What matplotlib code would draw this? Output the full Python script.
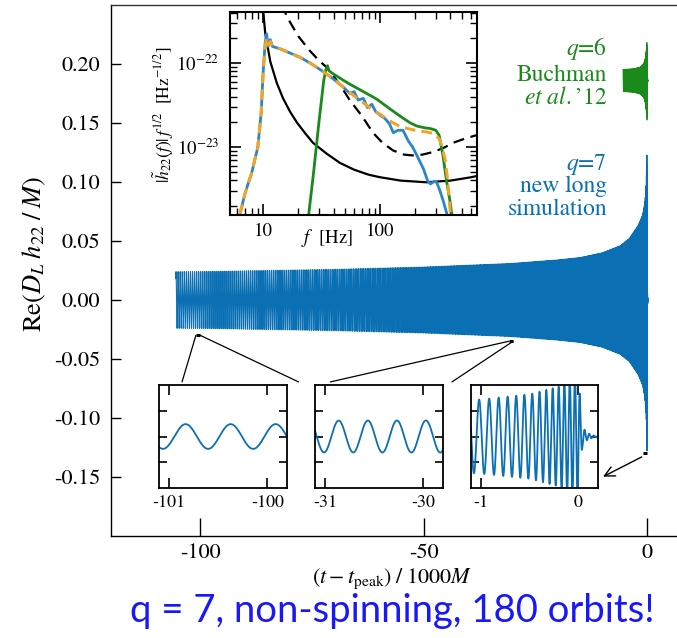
import numpy as np
import matplotlib
matplotlib.use('Agg')
import matplotlib.pyplot as plt
from matplotlib.patches import ConnectionPatch
from matplotlib.ticker import NullFormatter

plt.rcParams['font.family'] = 'STIXGeneral'
plt.rcParams['mathtext.fontset'] = 'stix'
plt.rcParams['axes.unicode_minus'] = False

# ---------------- data ----------------
# GW frequency of the (2,2) mode, cycles per 1000M, at times (t - t_peak)/1000M
freq_t = [-105.5, -101.0, -70.0, -50.0, -30.5, -15.0, -8.0, -4.0, -2.0, -1.0, -0.5, -0.2, 0.0, 0.3]
freq_f = [2.15, 2.18, 2.50, 2.84, 3.38, 4.20, 5.00, 6.00, 7.50, 9.50, 12.5, 16.7, 20.0, 24.0]

# amplitude envelope of the q=7 run
amp_t = [-105.5, -101.0, -70.0, -50.0, -30.5, -20.0, -15.0, -10.0, -6.0, -4.0, -2.0, -1.0,
         -0.5, -0.2, -0.05, 0.0, 0.02, 0.04, 0.08, 0.15, 0.3]
amp_a = [0.024, 0.024, 0.026, 0.028, 0.031, 0.034, 0.036, 0.040, 0.046, 0.052, 0.063, 0.072,
         0.082, 0.097, 0.120, 0.130, 0.060, 0.020, 0.008, 0.002, 0.0]

# q=6 Buchman et al. '12 waveform (drawn shifted upwards)
q6_offset = 0.186
q6_amp_t = [-5.4, -3.0, -1.5, -0.8, -0.4, -0.15, 0.0, 0.05, 0.1, 0.2]
q6_amp_a = [0.0095, 0.010, 0.0115, 0.014, 0.019, 0.027, 0.034, 0.020, 0.004, 0.0]

# zoomed windows and where their markers sit on the main plot
zoom_windows = [(-101, -100), (-31, -30), (-1, 0)]
zoom_marker_y = [-0.030, -0.035, -0.130]

# spectra |h22(f)| f^1/2, log10 values
psd_blue_f = [6.3, 7, 8, 9, 9.6, 10, 10.4, 10.7, 11.0, 11.5, 12, 14, 17, 20.7, 26, 32.6, 40, 48,
              55, 60, 65, 72, 78, 85, 92, 100, 110, 120, 130, 142, 157, 175, 190, 210, 235,
              255, 270, 290, 305, 325, 345, 372, 385]
psd_blue_h = [-23.81, -23.55, -23.3, -23.0, -22.6, -22.1, -21.75, -21.65, -21.8, -21.72, -21.8,
              -21.83, -21.88, -21.93, -22.01, -22.10, -22.19, -22.28, -22.36, -22.34, -22.44,
              -22.42, -22.53, -22.49, -22.58, -22.62, -22.66, -22.72, -22.83, -22.80, -22.80,
              -22.93, -23.0, -23.12, -23.26, -23.40, -23.44, -23.41, -23.42, -23.52, -23.63,
              -23.79, -23.9]
psd_orange_f = [6.3, 7, 8, 9, 9.6, 10, 10.4, 10.7, 11.0, 11.5, 12, 14, 17, 20.7, 26, 32.6, 40,
                48, 55, 70, 85, 100, 125, 150, 200, 250, 290, 320, 340, 360, 375, 390, 400, 405]
psd_orange_h = [-23.81, -23.55, -23.3, -23.0, -22.6, -22.1, -21.8, -21.7, -21.78, -21.74,
                -21.8, -21.83, -21.88, -21.93, -22.01, -22.10, -22.19, -22.28, -22.35, -22.46,
                -22.55, -22.61, -22.70, -22.76, -22.80, -22.82, -22.84, -22.90, -23.0, -23.15,
                -23.35, -23.6, -23.81, -23.9]
psd_green_f = [24.3, 27, 30, 33, 34.5, 35.5, 36.5, 40, 48, 55, 70, 94, 120, 148, 180, 207, 240,
               270, 300, 320, 345, 370, 397, 420]
psd_green_h = [-23.85, -23.3, -22.7, -22.2, -22.07, -22.03, -22.09, -22.13, -22.2, -22.25,
               -22.33, -22.43, -22.54, -22.63, -22.71, -22.75, -22.77, -22.78, -22.80, -22.86,
               -23.1, -23.4, -23.65, -23.9]
noise_f = [9.9, 10.4, 11.5, 13.1, 14.8, 17, 19.5, 23, 26.7, 35, 45.5, 60, 80, 100, 150, 250,
           400, 600, 700]
noise_h = [-21.3, -21.64, -21.98, -22.24, -22.42, -22.58, -22.71, -22.84, -22.95, -23.08,
           -23.19, -23.27, -23.33, -23.36, -23.40, -23.42, -23.40, -23.36, -23.34]
noise2_f = [14.5, 16, 20, 25, 30, 35, 45, 55, 70, 87, 105, 129, 160, 190, 230, 283, 350, 420,
            530, 700]
noise2_h = [-21.3, -21.45, -21.68, -21.85, -21.97, -22.05, -22.25, -22.44, -22.63, -22.83,
            -22.95, -23.04, -23.09, -23.10, -23.09, -23.06, -23.01, -22.95, -22.90, -22.85]

blue = '#0B70B3'
green = '#1A8A1A'
orange = '#F0A42A'

W, H = 677, 638


def waveform(t, env_t, env_a, t_align=None):
    # build h22 from the frequency and amplitude readings
    f = np.interp(t, freq_t, freq_f)
    phase = 2 * np.pi * np.concatenate([[0.0], np.cumsum(0.5 * (f[1:] + f[:-1]) * np.diff(t))])
    if t_align is not None:
        phase -= np.interp(t_align, t, phase)
    return np.interp(t, env_t, env_a, left=0, right=0) * np.cos(phase)


def px_axes(fig, x0, y0, x1, y1):
    return fig.add_axes([x0 / W, 1 - y1 / H, (x1 - x0) / W, (y1 - y0) / H])


t = np.linspace(-105.5, 0.3, 160000)
h = waveform(t, amp_t, amp_a, t_align=-100.83)
t6 = np.linspace(-5.4, 0.3, 20000)
h6 = q6_offset + waveform(t6, q6_amp_t, q6_amp_a)

fig = plt.figure(figsize=(W / 100, H / 100), dpi=100)

# ---------------- main panel ----------------
ax = px_axes(fig, 111, 5, 677, 536)
ax.plot(t, h, color=blue, lw=0.8)
ax.plot(t6, h6, color=green, lw=0.6)
for (lo, hi), my in zip(zoom_windows, zoom_marker_y):
    ax.plot([lo, hi], [my, my], color='k', lw=2.2, solid_capstyle='butt')
ax.set_xlim(-120, 6.7)
ax.set_ylim(-0.2, 0.25)
yt = [-0.15, -0.10, -0.05, 0.0, 0.05, 0.10, 0.15, 0.20]
ax.set_yticks(yt)
ax.set_yticklabels(['%.2f' % v for v in yt])
ax.set_xticks([-100, -50, 0])
ax.set_xticklabels(['-100', '-50', '0'])
ax.tick_params(direction='in', labelsize=16, width=1)
ax.tick_params(axis='y', length=7, pad=8)
ax.tick_params(axis='x', length=13, pad=5)
ax.spines['right'].set_visible(False)
for s in ['left', 'bottom', 'top']:
    ax.spines[s].set_linewidth(1.0)
ax.spines['top'].set_color('#333333')

fig.text(34 / W, 1 - 254 / H, r'Re$(D_L\;h_{22}\;/\;M)$', rotation=90, fontsize=19,
         ha='center', va='center')
fig.text(392 / W, 1 - 579 / H, r'$(t - t_{\mathrm{peak}})\;/\;1000M$', fontsize=16,
         ha='center', va='center')

# labels for the two runs
for txt, yb, c in [(r'$q$=6', 55, green), ('Buchman', 81, green),
                   (r'$et\ al.$' + '\u201912', 104, green),
                   (r'$q$=7', 170, blue), ('new long', 192, blue), ('simulation', 215, blue)]:
    fig.text(607 / W, 1 - yb / H, txt, color=c, fontsize=17, ha='right', va='baseline')

fig.text(392 / W, 1 - 611 / H, 'q = 7, non-spinning, 180 orbits!', color='#1818F8',
         fontsize=27.5, family='Lato', ha='center', va='center')

# ---------------- spectrum inset ----------------
axp = px_axes(fig, 230, 12, 477, 215)
axp.set_xscale('log')
axp.set_yscale('log')
axp.plot(noise_f, 10.0 ** np.array(noise_h), color='k', lw=1.6)
axp.plot(noise2_f, 10.0 ** np.array(noise2_h), color='k', lw=1.6, dashes=(5, 3))
axp.plot(psd_blue_f, 10.0 ** np.array(psd_blue_h), color='#2A86C8', lw=2.0)
axp.plot(psd_green_f, 10.0 ** np.array(psd_green_h), color=green, lw=2.0)
axp.plot(psd_orange_f, 10.0 ** np.array(psd_orange_h), color=orange, lw=2.2, dashes=(3.5, 2))
axp.set_xlim(5.2, 675)
axp.set_ylim(10 ** -23.81, 10 ** -21.39)
axp.set_xticks([10, 100])
axp.set_xticklabels(['10', '100'])
axp.set_yticks([1e-23, 1e-22])
axp.set_yticklabels([r'$10^{-23}$', r'$10^{-22}$'])
axp.xaxis.set_minor_formatter(NullFormatter())
axp.yaxis.set_minor_formatter(NullFormatter())
axp.tick_params(which='both', direction='in', top=True, right=True, labelsize=13.5)
axp.tick_params(which='major', length=8, width=1.2)
axp.tick_params(which='minor', length=5, width=1.0)
axp.tick_params(axis='x', pad=6)
axp.tick_params(axis='y', pad=8)
for s in axp.spines.values():
    s.set_linewidth(1.5)
fig.text(327 / W, 1 - 238 / H, r'$f$  [Hz]', fontsize=13.5, ha='center', va='center')
fig.text(163 / W, 1 - 115 / H, r'$|\tilde{h}_{22}(f)|\,f^{1/2}$  [Hz$^{-1/2}$]', fontsize=12.5,
         rotation=90, ha='center', va='center')

# ---------------- zoom insets ----------------
inset_px = [(159, 385, 287, 488), (315, 385, 443, 488), (471, 385, 598, 488)]
insets = []
for (lo, hi), box in zip(zoom_windows, inset_px):
    a = px_axes(fig, *box)
    sel = (t >= lo - 0.15) & (t <= hi + 0.25)
    a.plot(t[sel], h[sel], color=blue, lw=1.3)
    a.set_xlim(lo - 0.1, hi + 0.2)
    a.set_ylim(-0.1, 0.1)
    a.set_xticks([lo, hi])
    a.set_xticklabels(['%d' % lo, '%d' % hi])
    a.set_yticks([-0.05, 0.0, 0.05])
    a.set_yticklabels([])
    a.tick_params(direction='in', top=True, right=True, labelsize=13, width=1.2, pad=5)
    a.tick_params(axis='x', length=7)
    a.tick_params(axis='y', length=6)
    for s in a.spines.values():
        s.set_linewidth(1.3)
    insets.append(a)

# lines from the markers to the zoom insets
links = [((-101, -0.030), 0, (0.18, 1.03)), ((-100, -0.030), 0, (1.09, 1.03)),
         ((-31, -0.035), 1, (0.12, 1.03)), ((-30, -0.035), 1, (1.07, 1.03))]
for xyA, k, xyB in links:
    fig.add_artist(ConnectionPatch(xyA=xyA, coordsA=ax.transData, xyB=xyB,
                                   coordsB=insets[k].transAxes, color='k', lw=0.9))
fig.add_artist(ConnectionPatch(xyA=(-1.2, -0.133), coordsA=ax.transData, xyB=(1.04, 0.11),
                               coordsB=insets[2].transAxes, color='k', lw=1.0,
                               arrowstyle='->', mutation_scale=18))

fig.savefig('out.png', dpi=100)
